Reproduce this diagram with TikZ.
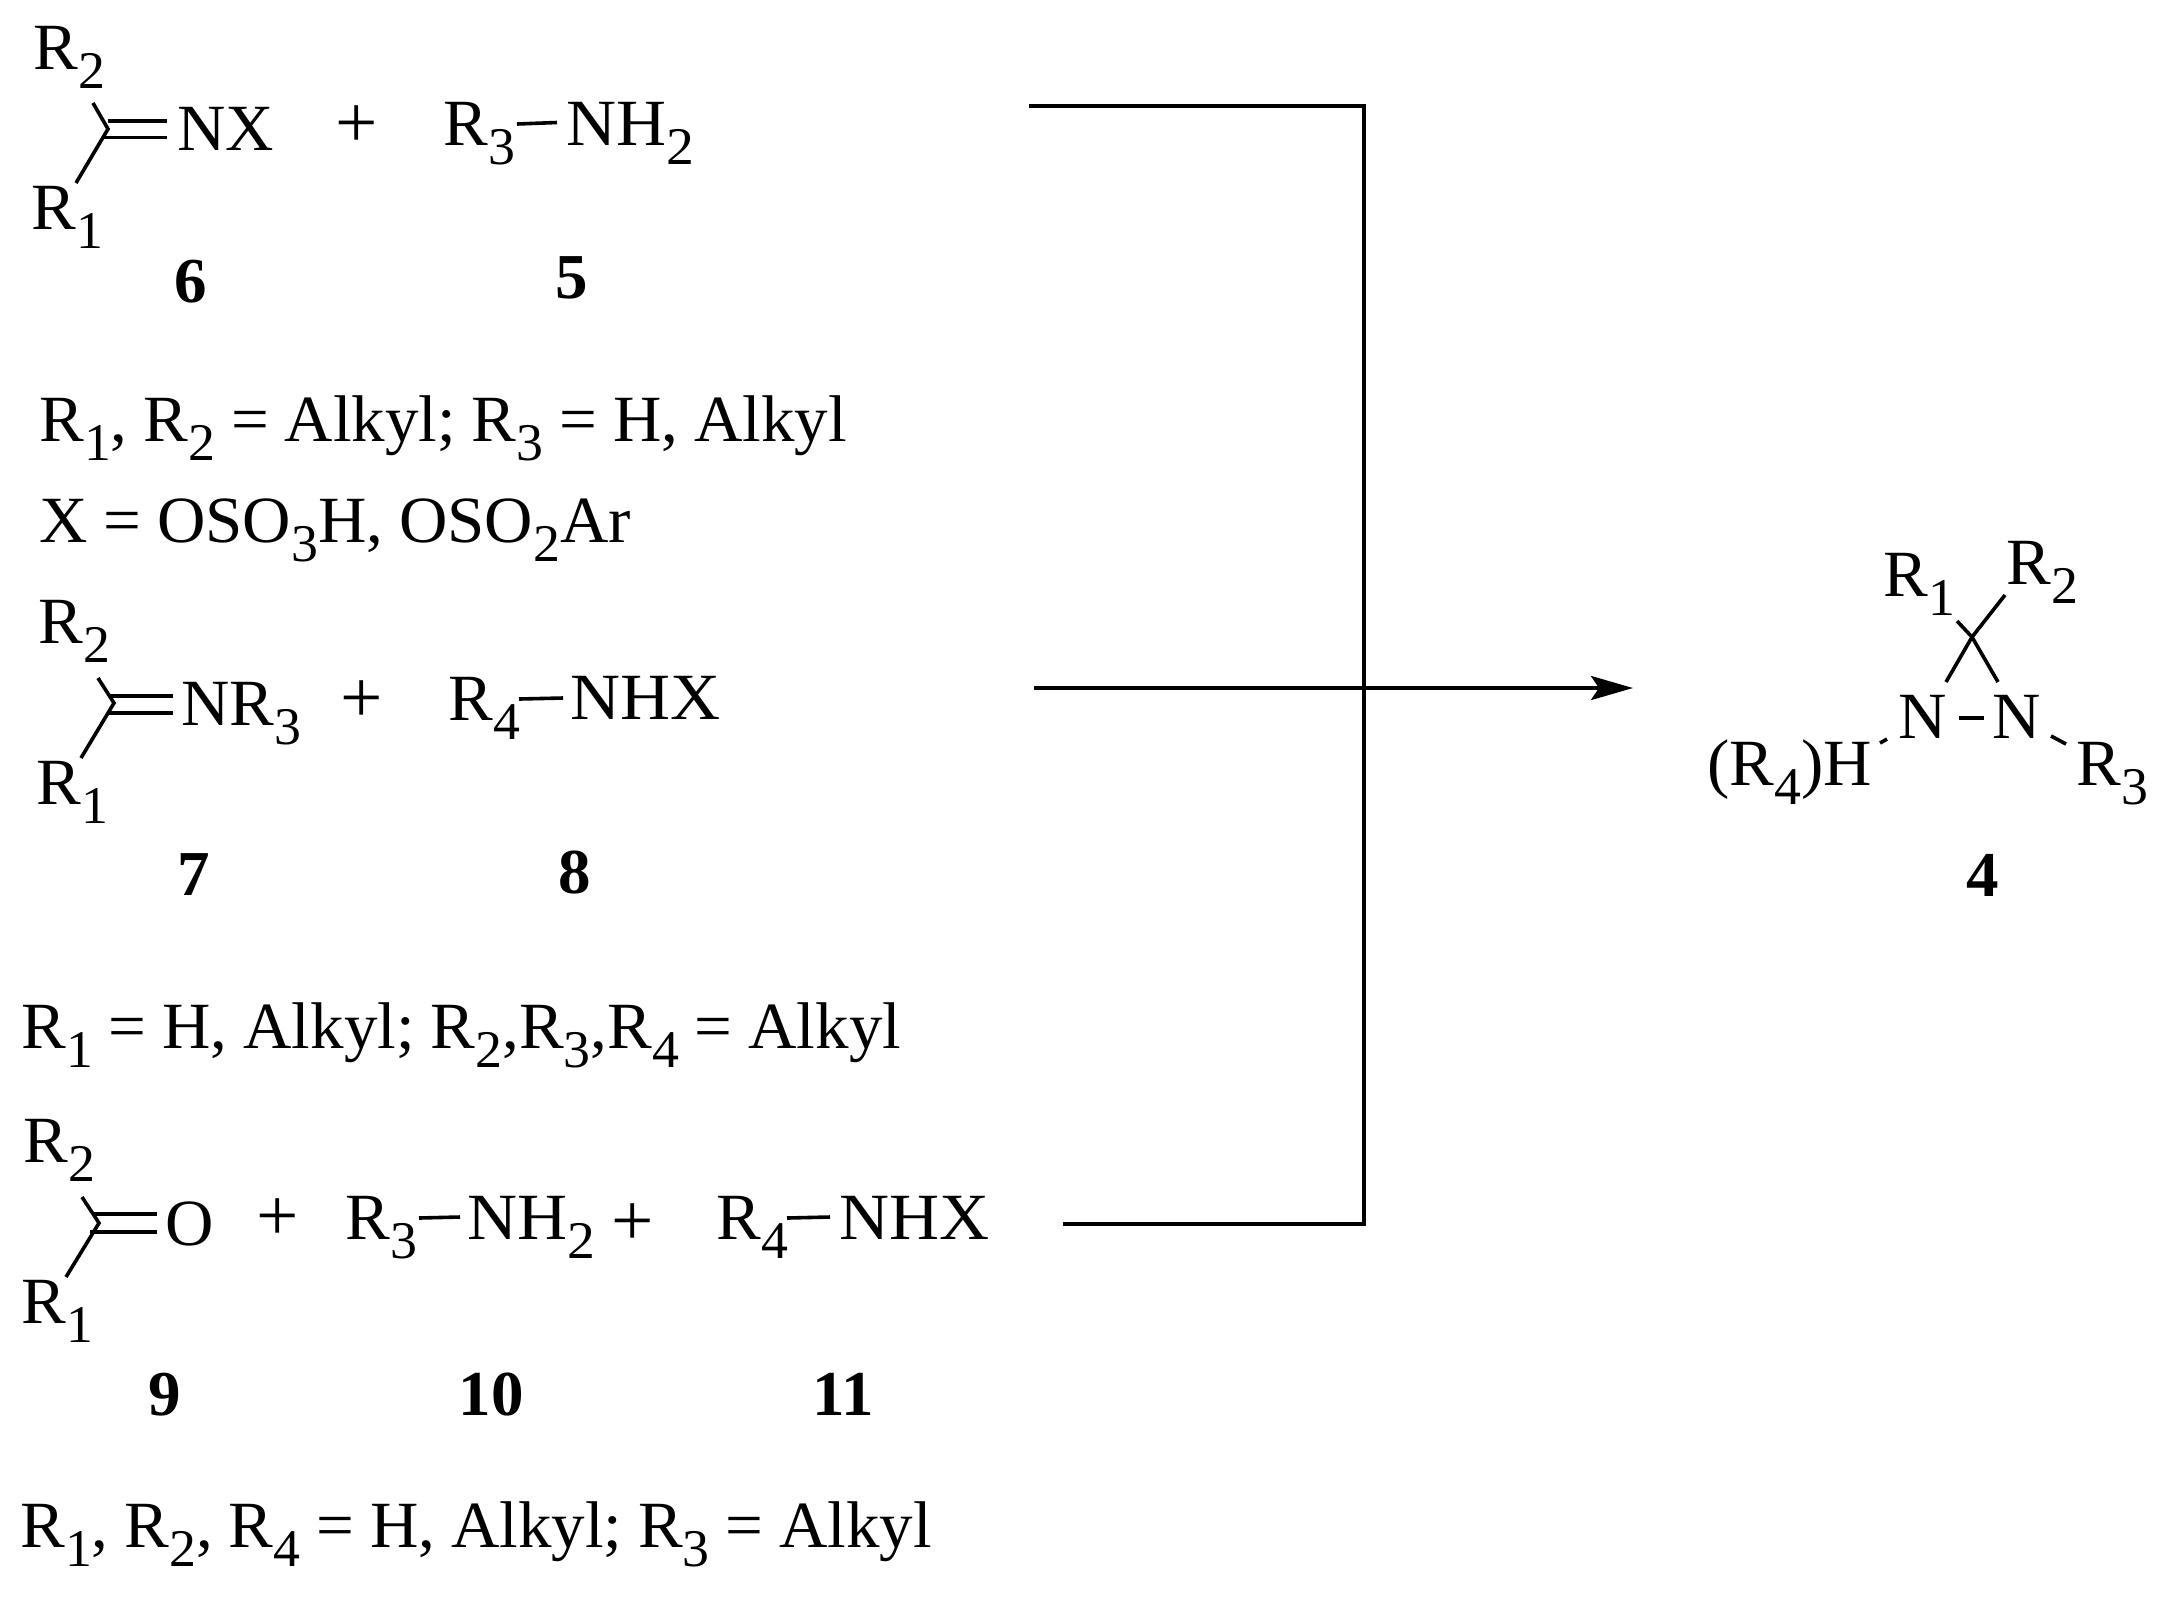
\documentclass[tikz,border=0pt]{standalone}
\usepackage{fontspec}
\setmainfont[FakeStretch=1.015,WordSpace=0.95]{Liberation Serif}
\newfontfamily\widefont[FakeStretch=1.05]{Liberation Serif}
\usetikzlibrary{arrows.meta}
\newcommand{\lo}[1]{\raisebox{-0.29em}{\fontsize{26.5}{26.5}\selectfont #1}}
\tikzset{
  lbl/.style={inner sep=0pt,anchor=base west,font=\fontsize{33}{40}\selectfont},
  grp/.style={lbl,font=\fontsize{33}{40}\selectfont\widefont},
  num/.style={inner sep=0pt,anchor=base,font=\fontsize{32}{40}\selectfont\bfseries},
  plusop/.style={inner sep=0pt,yshift=-1.5pt,font=\fontsize{37}{40}\selectfont},
  bond/.style={line width=1.8pt},
  route/.style={line width=2pt},
}
\begin{document}
\begin{tikzpicture}[x=0.5pt,y=-0.5pt]
  \useasboundingbox (0,0) rectangle (2166,1608);
  % imine + amine
  \node[lbl] (r2a) at (33,69) {R\lo{2}};
  \node[lbl] (r1a) at (31,229) {R\lo{1}};
  \node[lbl] (nxa) at (177,150) {NX};
  \node[plusop] (pa) at (357,124) {+};
  \node[lbl] (r3a) at (443,145) {R\lo{3}};
  \node[grp] (nha) at (566,145) {NH\lo{2}};
  \node[num] (n6) at (191,302) {6};
  \node[num] (n5) at (572,298) {5};
  \coordinate (ca) at (108,129);
  \coordinate (ca2) at (93,103);
  \coordinate (ca1) at (76,183);
  \draw[bond] (ca2) -- (ca) -- (ca1);
  \draw[bond] (108,121) -- (167,121);
  \draw[bond] (104,137.5) -- (167,137.5);
  \draw[bond] (517,124) -- (557,122.5);
  \node[lbl] (ta) at (39,441) {R\lo{1}, R\lo{2} = Alkyl; R\lo{3} = H, Alkyl};
  \node[lbl] (tb) at (39,542) {X = OSO\lo{3}H, OSO\lo{2}Ar};
  % imine + NHX
  \node[lbl] (r2b) at (38,643) {R\lo{2}};
  \node[lbl] (r1b) at (36,804) {R\lo{1}};
  \node[lbl] (nrb) at (181,725) {NR\lo{3}};
  \node[plusop] (pb) at (362,699) {+};
  \node[lbl] (r4b) at (448,720) {R\lo{4}};
  \node[grp] (nhb) at (570,719) {NHX};
  \node[num] (n7) at (194,895) {7};
  \node[num] (n8) at (575,893) {8};
  \coordinate (cb) at (114,703);
  \coordinate (cb2) at (98,678);
  \coordinate (cb1) at (81,758);
  \draw[bond] (cb2) -- (cb) -- (cb1);
  \draw[bond] (110,696) -- (173,696);
  \draw[bond] (108,713) -- (173,713);
  \draw[bond] (519,699) -- (563,698);
  \node[lbl] (tc) at (21,1048) {R\lo{1} = H, Alkyl; R\lo{2},R\lo{3},R\lo{4} = Alkyl};
  % ketone + amine + NHX
  \node[lbl] (r2c) at (23,1162) {R\lo{2}};
  \node[lbl] (r1c) at (21,1323) {R\lo{1}};
  \node[lbl] (oc) at (165,1245) {O};
  \node[plusop] (pc) at (278,1217) {+};
  \node[lbl] (r3c) at (345,1239) {R\lo{3}};
  \node[grp] (nhc) at (467,1239) {NH\lo{2}};
  \node[plusop] (pd) at (633,1222) {+};
  \node[lbl] (r4c) at (716,1239) {R\lo{4}};
  \node[grp] (nxc) at (839,1239) {NHX};
  \node[num] (n9) at (165,1415) {9};
  \node[num] (n10) at (491,1415) {10};
  \node[num] (n11) at (843,1415) {11};
  \coordinate (cc) at (99,1223);
  \coordinate (cc2) at (82,1197);
  \coordinate (cc1) at (66,1277);
  \draw[bond] (cc2) -- (cc) -- (cc1);
  \draw[bond] (94,1214) -- (157,1214);
  \draw[bond] (90,1232) -- (157,1232);
  \draw[bond] (419,1218) -- (460,1217);
  \draw[bond] (787,1218) -- (830,1217);
  \node[lbl] (td) at (20,1547) {R\lo{1}, R\lo{2}, R\lo{4} = H, Alkyl; R\lo{3} = Alkyl};
  % collecting lines
  \coordinate (ua) at (1029,106);
  \coordinate (ub) at (1364,106);
  \coordinate (uc) at (1364,1224);
  \coordinate (ud) at (1063,1224);
  \coordinate (ue) at (1034,688);
  \coordinate (uf) at (1633,688);
  \draw[route] (ua) -- (ub) -- (uc) -- (ud);
  \draw[route,-{Stealth[length=21pt,width=12pt,inset=4pt]}] (ue) -- (uf);
  % diaziridine
  \node[lbl] (r1d) at (1883,596) {R\lo{1}};
  \node[lbl] (r2d) at (2006,584) {R\lo{2}};
  \node[lbl] (na) at (1898,738) {N};
  \node[lbl] (nb) at (1992,738) {N};
  \node[lbl] (hd) at (1707,785) {(R\lo{4})H};
  \node[lbl] (r3d) at (2076,785) {R\lo{3}};
  \node[num] (n4) at (1983,896) {4};
  \coordinate (cd) at (1972,637);
  \draw[bond] (1957,621) -- (cd) -- (1998,682);
  \draw[bond] (2005,595) -- (cd) -- (1946,682);
  \draw[bond] (1959,718) -- (1984,718);
  \draw[bond] (1880,743) -- (1887,739);
  \draw[bond] (2051,736) -- (2066,744);
\end{tikzpicture}
\end{document}
